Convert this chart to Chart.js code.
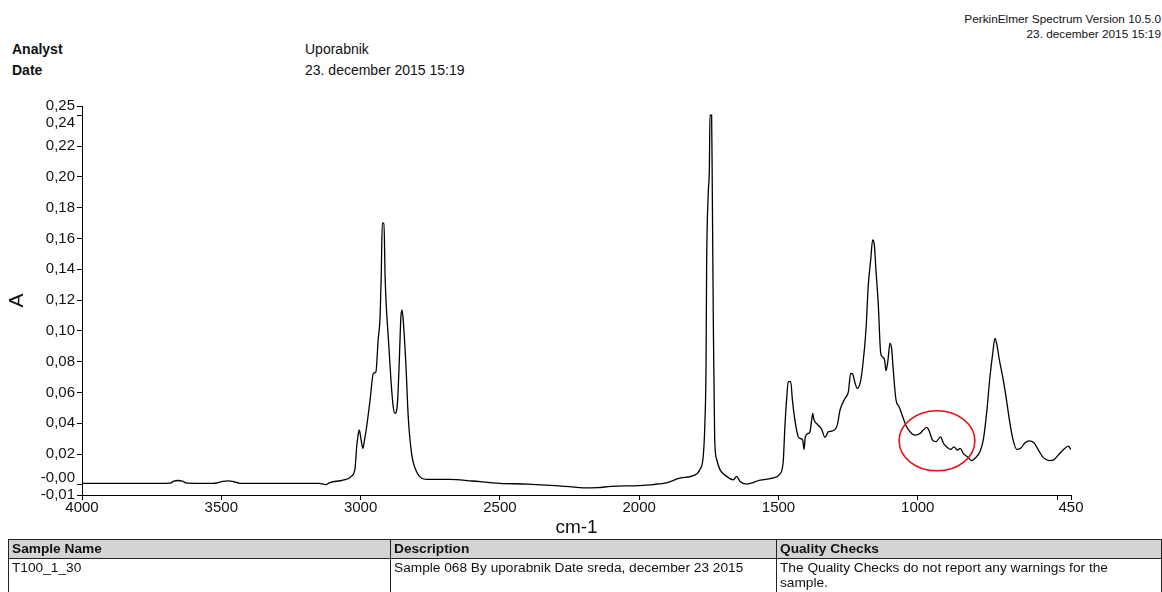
<!DOCTYPE html>
<html>
<head>
<meta charset="utf-8">
<script src="https://cdn.jsdelivr.net/npm/chart.js@4/dist/chart.umd.min.js"></script>
<style>
  html, body { margin: 0; padding: 0; background: #fff; }
  body { width: 1162px; height: 592px; position: relative; overflow: hidden;
         font-family: "Liberation Sans", Arial, sans-serif; color: #111; }
  #spectrum { position: absolute; left: 0; top: 0; }
  .hdr { position: absolute; font-size: 14px; line-height: 16px; white-space: nowrap; }
  .hdr.b { font-weight: bold; }
  .ver { position: absolute; right: 1px; font-size: 11.8px; line-height: 14px; text-align: right; white-space: nowrap; }
  table.info { position: absolute; left: 8px; top: 539px; width: 1153px; border-collapse: collapse;
               font-size: 13.7px; table-layout: fixed; }
  table.info td, table.info th { border: 1px solid #222; text-align: left; vertical-align: top;
               padding: 1px 3px; line-height: 15px; }
  table.info th { background: #d4d4d4; font-weight: bold; height: 16px; }
  table.info td { height: 40px; }
</style>
</head>
<body>
<div class="ver" style="top:12px;">PerkinElmer Spectrum Version 10.5.0</div>
<div class="ver" style="top:27px;">23. december 2015 15:19</div>
<div class="hdr b" style="left:12px; top:41px;">Analyst</div>
<div class="hdr b" style="left:12px; top:62px;">Date</div>
<div class="hdr" style="left:305px; top:41px;">Uporabnik</div>
<div class="hdr" style="left:305px; top:62px;">23. december 2015 15:19</div>

<canvas id="spectrum" width="1162" height="592"></canvas>

<table class="info">
  <colgroup><col style="width:382px"><col style="width:386px"><col style="width:385px"></colgroup>
  <tr><th>Sample Name</th><th>Description</th><th>Quality Checks</th></tr>
  <tr><td>T100_1_30</td><td>Sample 068 By uporabnik Date sreda, december 23 2015</td>
      <td>The Quality Checks do not report any warnings for the sample.</td></tr>
</table>

<script>
// IR absorbance spectrum, sample T100_1_30
const wavenumbers = [
  4000, 3900, 3800, 3700, 3684, 3670, 3655, 3640, 3623, 3580, 3530, 3516, 3495, 3475, 3455, 3433,
  3350, 3250, 3150, 3125, 3110, 3063, 3032, 3020, 3014, 3010, 3005, 2998, 2992, 2986, 2980, 2973,
  2966, 2954, 2945, 2937, 2930, 2926, 2922, 2916, 2912, 2900, 2891, 2883, 2876, 2867, 2861, 2855,
  2851, 2847, 2837, 2829, 2817, 2799, 2763, 2680, 2600, 2500, 2400, 2300, 2250, 2200, 2150, 2100,
  2000, 1950, 1900, 1854, 1806, 1782, 1770, 1764, 1760, 1758, 1752, 1748, 1746, 1740, 1737.5, 1734,
  1729, 1722, 1710, 1686, 1662, 1650, 1638, 1614, 1566, 1519, 1495, 1483, 1477, 1471, 1465, 1456,
  1450, 1441, 1429, 1420, 1413, 1408, 1404, 1393, 1387, 1381, 1377, 1373, 1361, 1345, 1333, 1321,
  1309, 1289, 1279, 1261, 1249, 1241, 1234, 1225, 1217, 1207, 1198, 1186, 1178, 1169, 1162, 1156,
  1150, 1142, 1133, 1126, 1119, 1114, 1107, 1100, 1094, 1088, 1078, 1067, 1054, 1040, 1022, 1007,
  992, 980, 968, 959, 947, 935, 918, 908, 894, 882, 870, 858, 848, 837, 819, 807,
  795, 777, 765, 753, 741, 731, 723, 717, 707, 695, 683, 671, 659, 645, 631, 615,
  600, 583, 567, 550, 528, 514, 496, 472, 460, 450
];
const absorbance = [
  0.0010, 0.0010, 0.0010, 0.0010, 0.0011, 0.0024, 0.0028, 0.0024, 0.0011, 0.0010, 0.0010, 0.0012, 0.0022, 0.0026, 0.0020, 0.0010,
  0.0009, 0.0009, 0.0010, 0.0002, 0.0015, 0.0031, 0.0057, 0.0107, 0.0247, 0.0310, 0.0356, 0.0290, 0.0237, 0.0290, 0.0356, 0.0450,
  0.0550, 0.0724, 0.0734, 0.0940, 0.1090, 0.1350, 0.1700, 0.1700, 0.1350, 0.0940, 0.0680, 0.0507, 0.0464, 0.0550, 0.0810, 0.1100,
  0.1135, 0.1070, 0.0767, 0.0442, 0.0204, 0.0085, 0.0036, 0.0036, 0.0025, 0.0010, 0.0005, -0.0005, -0.0012, -0.0020, -0.0018, -0.0010,
  -0.0005, 0.0002, 0.0015, 0.0044, 0.0060, 0.0099, 0.0187, 0.0408, 0.0780, 0.1400, 0.1900, 0.2060, 0.2400, 0.2400, 0.1900, 0.1090,
  0.0297, 0.0166, 0.0099, 0.0055, 0.0033, 0.0055, 0.0022, 0.0005, 0.0030, 0.0045, 0.0070, 0.0150, 0.0377, 0.0550, 0.0670, 0.0670,
  0.0550, 0.0420, 0.0312, 0.0300, 0.0290, 0.0230, 0.0310, 0.0334, 0.0345, 0.0420, 0.0464, 0.0425, 0.0394, 0.0360, 0.0308, 0.0345,
  0.0349, 0.0388, 0.0486, 0.0562, 0.0605, 0.0724, 0.0720, 0.0660, 0.0626, 0.0660, 0.0767, 0.1005, 0.1286, 0.1460, 0.1590, 0.1560,
  0.1390, 0.1180, 0.0854, 0.0830, 0.0810, 0.0740, 0.0810, 0.0918, 0.0886, 0.0745, 0.0550, 0.0507, 0.0442, 0.0377, 0.0334, 0.0323,
  0.0334, 0.0356, 0.0373, 0.0350, 0.0290, 0.0280, 0.0312, 0.0270, 0.0243, 0.0230, 0.0247, 0.0226, 0.0237, 0.0204, 0.0178, 0.0157,
  0.0172, 0.0215, 0.0290, 0.0464, 0.0700, 0.0854, 0.0951, 0.0918, 0.0810, 0.0700, 0.0570, 0.0420, 0.0300, 0.0230, 0.0237, 0.0273,
  0.0286, 0.0273, 0.0226, 0.0178, 0.0157, 0.0160, 0.0193, 0.0237, 0.0252, 0.0230
];

// axis ranges and tick positions
const xMin = 450, xMax = 4000;
const xTicks = [450, 500, 1000, 1500, 2000, 2500, 3000, 3500, 4000];
const yMin = -0.0066, yMax = 0.2460;
const yTicks = [yMin, 0, 0.02, 0.04, 0.06, 0.08, 0.10, 0.12, 0.14, 0.16, 0.18, 0.20, 0.22, 0.24, yMax];

// highlighted region (data units): centre and half-extents
const markCentre = { x: 931, y: 0.0286 };
const markRadius = { x: 136, y: 0.0195 };

const fmt = v => {
  const s = Math.abs(v).toFixed(2).replace('.', ',');
  return (v < 0 || Object.is(v, -0) ? '-' : '') + s;
};

const ellipsePlugin = {
  id: 'regionMark',
  afterDatasetsDraw(chart) {
    const { ctx, scales: { x, y } } = chart;
    const cx = x.getPixelForValue(markCentre.x);
    const cy = y.getPixelForValue(markCentre.y);
    const rx = Math.abs(x.getPixelForValue(markCentre.x - markRadius.x) - cx);
    const ry = Math.abs(y.getPixelForValue(markCentre.y + markRadius.y) - cy);
    ctx.save();
    ctx.beginPath();
    ctx.ellipse(cx, cy, rx, ry, 0, 0, Math.PI * 2);
    ctx.strokeStyle = '#e3141c';
    ctx.lineWidth = 1.6;
    ctx.stroke();
    ctx.restore();
  }
};

const tickFont = { family: '"Liberation Sans", Arial, sans-serif', size: 15, lineHeight: 0.95 };

new Chart(document.getElementById('spectrum'), {
  type: 'line',
  data: {
    datasets: [{
      data: wavenumbers.map((w, i) => ({ x: w, y: absorbance[i] })),
      borderColor: '#000',
      borderWidth: 1.3,
      pointRadius: 0,
      cubicInterpolationMode: 'monotone',
      fill: false
    }]
  },
  options: {
    responsive: false,
    animation: false,
    devicePixelRatio: 1,
    layout: { padding: { left: 0, top: 106, right: 91, bottom: 53 } },
    plugins: { legend: { display: false }, tooltip: { enabled: false } },
    scales: {
      x: {
        type: 'linear',
        reverse: true,
        min: xMin,
        max: xMax,
        afterBuildTicks: s => { s.ticks = xTicks.map(v => ({ value: v })); },
        afterFit: s => { s.height = 44; },
        ticks: {
          autoSkip: false,
          maxRotation: 0,
          padding: 1,
          color: '#111',
          font: tickFont,
          callback: v => (v === 500 ? '' : String(v))
        },
        grid: { display: true, drawOnChartArea: false, drawTicks: true, tickLength: 5, color: '#000' },
        border: { display: true, color: '#000', width: 1 },
        title: {
          display: true, text: 'cm-1', color: '#111',
          font: { family: '"Liberation Sans", Arial, sans-serif', size: 19, lineHeight: 1.2 },
          padding: { top: 0, bottom: 0 }
        }
      },
      y: {
        type: 'linear',
        min: yMin,
        max: yMax,
        afterBuildTicks: s => { s.ticks = yTicks.map(v => ({ value: v })); },
        afterFit: s => { s.width = 82; },
        ticks: {
          autoSkip: false,
          padding: 2,
          color: '#111',
          font: { family: '"Liberation Sans", Arial, sans-serif', size: 15, lineHeight: 0.95 },
          callback: v => {
            if (v === 0) return ['-0,00', ''];
            if (Math.abs(v - 0.24) < 1e-9) return ['', '0,24'];
            return fmt(v);
          }
        },
        grid: { display: true, drawOnChartArea: false, drawTicks: true, tickLength: 5, color: '#000' },
        border: { display: true, color: '#000', width: 1 },
        title: {
          display: true, text: 'A', color: '#111',
          font: { family: '"Liberation Sans", Arial, sans-serif', size: 21, lineHeight: 1.2 },
          padding: { top: 5, bottom: 0 }
        }
      }
    }
  },
  plugins: [ellipsePlugin]
});
</script>
</body>
</html>
